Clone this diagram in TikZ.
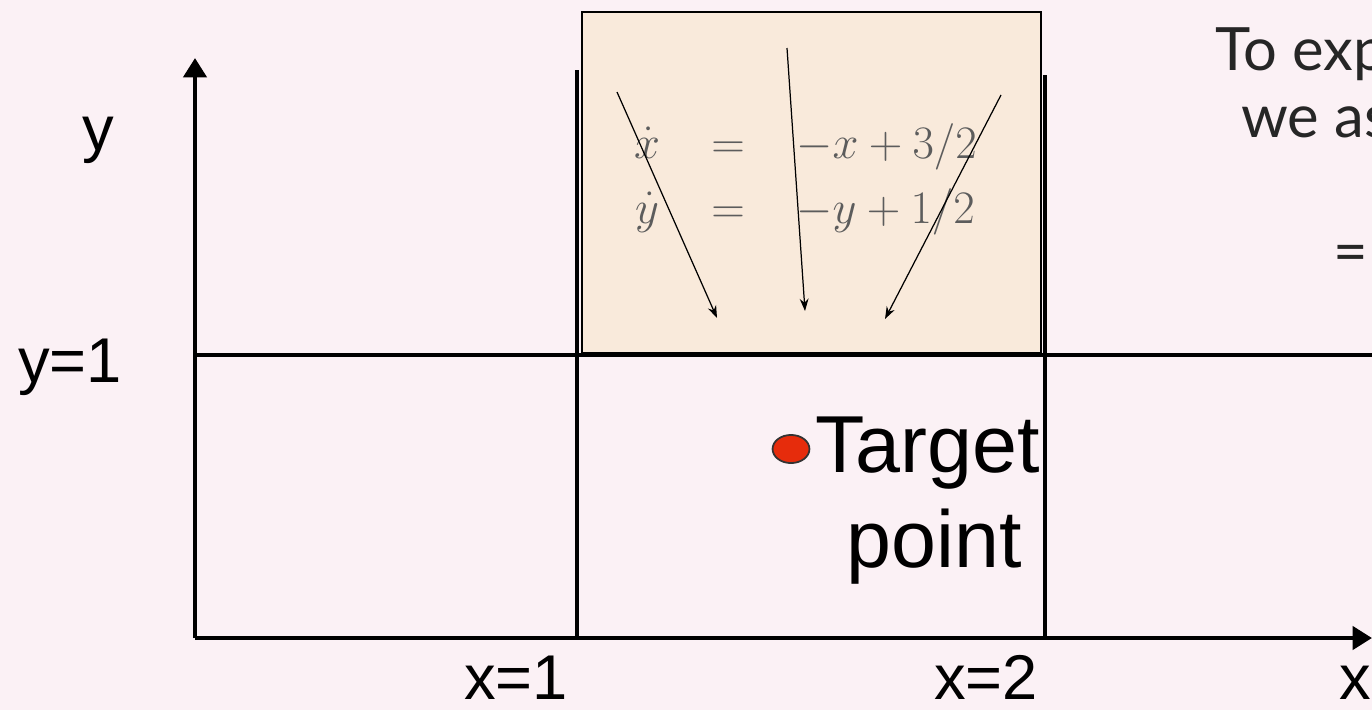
\documentclass[tikz,border=0pt]{standalone}
\usepackage{fix-cm}
\usepackage{fontspec}
\setmainfont{Liberation Sans}
\newfontfamily\notefont{Lato}
\usetikzlibrary{arrows.meta, positioning, shapes.geometric}
\definecolor{slidebg}{HTML}{FBF1F5}
\definecolor{boxbeige}{HTML}{F9EADB}
\definecolor{dotred}{HTML}{E62C0C}
\definecolor{eqgray}{HTML}{5C5C5C}

\begin{document}
\begin{tikzpicture}[
    x=0.02cm, y=-0.02cm,
    axis/.style={line width=2.6pt, -{Triangle[length=11pt,width=13pt]}},
    gridline/.style={line width=2.2pt},
    lab/.style={font=\fontsize{36}{42}\selectfont, inner sep=0pt, anchor=base west},
    big/.style={font=\fontsize{46}{54}\selectfont, inner sep=0pt},
    eq/.style={text=eqgray, font=\fontsize{26.5}{31}\selectfont, inner sep=0pt, anchor=base},
    flowarrow/.style={line width=0.7pt, -{Stealth[length=7pt,width=5pt]}},
    note/.style={font=\notefont\fontsize{34}{40}\selectfont, text=black!85, inner sep=0pt, anchor=base west}
]

\clip (0,0) rectangle (1372,710);
\fill[slidebg] (0,0) rectangle (1372,710);

% corners of the plot
\coordinate (origin) at (195,638);
\coordinate (ytip) at (195,58);
\coordinate (xtip) at (1372,638);
\coordinate (yone) at (195,355);
\coordinate (yoneend) at (1372,355);
\coordinate (xone) at (577,638);
\coordinate (xonetop) at (577,70);
\coordinate (xtwo) at (1045,638);
\coordinate (xtwotop) at (1045,75);

% flow box above the target cell
\draw[line width=1.5pt, fill=boxbeige] (582,12) rectangle (1041,353);

% grid
\draw[gridline] (yone) -- (yoneend);
\draw[gridline] (xone) -- (xonetop);
\draw[gridline] (xtwo) -- (xtwotop);

% axes
\draw[axis] (origin) -- (ytip);
\draw[axis] (origin) -- (xtip);

% axis labels
\node[lab] (ylab) at (82,150) {y};
\node[lab] (yonelab) at (18,382) {y=1};
\node[lab] (xonelab) at (464,699) {x=1};
\node[lab] (xtwolab) at (934,699) {x=2};
\node[lab] (xlab) at (1339,699) {x};

% equations
\node[eq] (xdot) at (647,158) {$\dot x$};
\node[eq] (eqa) at (728,158) {$=$};
\node[eq, anchor=base west] (rhsa) at (796,158) {$-x+3/2$};
\node[eq] (ydot) at (647,223) {$\dot y$};
\node[eq] (eqb) at (728,223) {$=$};
\node[eq, anchor=base west] (rhsb) at (796,223) {$-y+1/2$};

% flow arrows
\coordinate (fa) at (617,92);
\coordinate (fb) at (717,318);
\coordinate (fc) at (787,48);
\coordinate (fd) at (805,311);
\coordinate (fe) at (1001,95);
\coordinate (ff) at (885,319);
\draw[flowarrow] (fa) -- (fb);
\draw[flowarrow] (fc) -- (fd);
\draw[flowarrow] (fe) -- (ff);

% target point
\node[draw=black!80, line width=1pt, fill=dotred, ellipse, inner sep=0pt,
      minimum width=21pt, minimum height=16pt] (dot) at (791,449) {};
\node[big, anchor=base west] (target) at (815,472) {Target};
\node[big, anchor=base] (point) at (934,567) {point};

% note on the right
\node[note] (notea) at (1215,70) {To exp};
\node[note] (noteb) at (1241,137) {we as};
\node[note] (notec) at (1333,272) {=};

\end{tikzpicture}
\end{document}
